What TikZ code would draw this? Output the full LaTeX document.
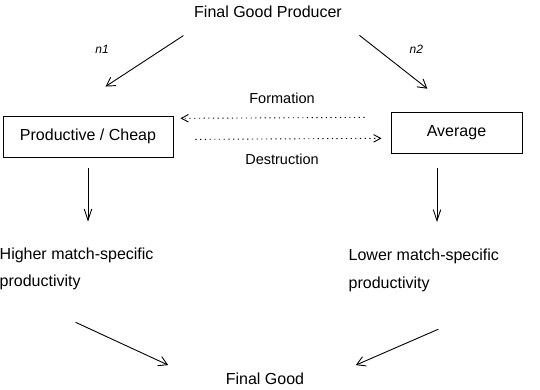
\documentclass[tikz,border=0pt]{standalone}
\usepackage{fontspec}
\setmainfont{Liberation Sans}
\usetikzlibrary{positioning,arrows.meta}

\begin{document}
\begin{tikzpicture}[
  x=1pt, y=-1pt,
  every node/.style={font=\fontsize{16}{27.5}\selectfont, inner sep=0pt},
  box/.style={draw, line width=0.9pt, minimum height=41pt},
  lbl/.style={font=\fontsize{14.5}{17}\selectfont},
  nlbl/.style={font=\fontsize{12}{14}\selectfont\itshape},
  arr/.style={-{Straight Barb[length=8.5pt,width=10pt]}, line width=0.9pt},
  downarr/.style={-{Straight Barb[length=11pt,width=7.5pt]}, line width=0.9pt},
  dotarr/.style={-{Straight Barb[length=7pt,width=7.5pt]}, line width=0.9pt,
                 dash pattern=on 1.2pt off 3.5pt}
]
\useasboundingbox (0,0) rectangle (540,389);

\node (fgp) at (268,12) {Final Good Producer};
\node[box, minimum width=170pt] (prod) at (88,136.5) {Productive / Cheap};
\node[box, minimum width=131pt] (avg) at (456.5,132.5) {Average};
\node[align=left, anchor=north west] (hi) at (-0.5,247.5) {Higher match-specific\\productivity};
\node[align=left, anchor=north west] (lo) at (348.5,249) {Lower match-specific\\productivity};
\node (fg) at (265,379) {Final Good};

% producer splits into the two match types
\draw[arr, shorten <=32pt, shorten >=53pt] (fgp.186) -- node[nlbl, pos=.61, above left=24pt and 10pt] (n1) {n1} (prod.142);
\draw[arr, shorten <=28pt, shorten >=37pt] (fgp.355) -- node[nlbl, pos=.535, above right=14pt and 8pt] (n2) {n2} (avg.north);

% flows between the two
\draw[dotarr, shorten <=26pt, shorten >=7pt] (avg.167) -- node[lbl, above=14pt] (form) {Formation} (prod.12);
\draw[dotarr, shorten <=22pt, shorten >=9pt] (prod.358) -- node[lbl, below=15pt] (destr) {Destruction} (avg.185);

\draw[downarr, shorten <=11pt, shorten >=26pt] (prod.south) -- (prod.south |- hi.north);
\draw[downarr, shorten <=15pt, shorten >=27pt] ([xshift=-19.5pt]avg.south) -- ([xshift=-19.5pt]avg.south |- lo.north);

% into the final good
\draw[arr] ([shift={(-1pt,-32pt)}]hi.south) -- ([shift={(-57.5pt,20pt)}]fg.south west);
\draw[arr] ([shift={(14.5pt,-37.4pt)}]lo.south) -- ([shift={(51.5pt,20pt)}]fg.south east);
\end{tikzpicture}
\end{document}
